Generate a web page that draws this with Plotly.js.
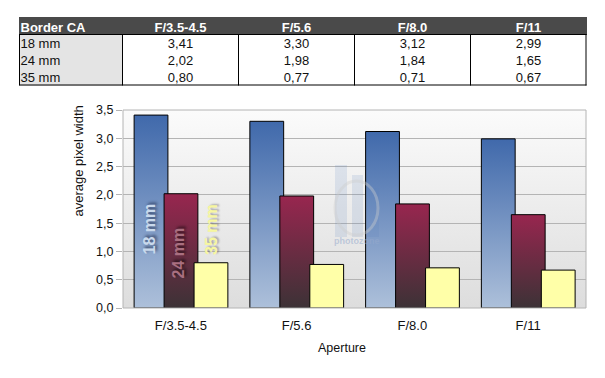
<!DOCTYPE html>
<html><head><meta charset="utf-8">
<script src="https://cdn.plot.ly/plotly-3.0.1.min.js"></script>
<style>html,body{margin:0;padding:0;background:#fff}#c{width:605px;height:378px}</style>
</head><body><div id="c"></div>
<script>
var apertures = ['F/3.5-4.5','F/5.6','F/8.0','F/11'];
var seriesNames = ['18 mm','24 mm','35 mm'];
var v18 = [3.41,3.30,3.12,2.99];
var v24 = [2.02,1.98,1.84,1.65];
var v35 = [0.80,0.77,0.71,0.67];
var cell18 = ['3,41','3,30','3,12','2,99'];
var cell24 = ['2,02','1,98','1,84','1,65'];
var cell35 = ['0,80','0,77','0,71','0,67'];
var tableTitle = 'Border CA';
var yTitle = 'average pixel width';
var xTitle = 'Aperture';

var W=605,H=378;
function px(x){return x/W;} function py(y){return 1-y/H;}
var barW=0.292, step=0.259, start=-0.404;
function bar(name,vals,i,color){
  return {type:'bar',name:name,x:apertures,y:vals,width:barW,offset:start+i*step,
    marker:{color:color,line:{color:'#000',width:1}},hoverinfo:'skip',showlegend:false,xaxis:'x',yaxis:'y'};
}
function col(a,b,c){return [a,b,c];}
var table={type:'table',domain:{x:[px(19.5),px(586.5)],y:[py(100),py(17)]},
  columnwidth:[103,116,116,116,116],
  header:{values:[tableTitle].concat(apertures),height:17,align:['left','center','center','center','center'],
    fill:{color:'#4a4a4a'},line:{width:1,color:'#4a4a4a'},
    font:{family:'Liberation Sans',size:13,color:'#fff',weight:'bold'}},
  cells:{values:[seriesNames,col(cell18[0],cell24[0],cell35[0]),col(cell18[1],cell24[1],cell35[1]),col(cell18[2],cell24[2],cell35[2]),col(cell18[3],cell24[3],cell35[3])],
    height:17,align:['left','center','center','center','center'],
    fill:{color:['#e4e4e4','#fff','#fff','#fff','#fff']},line:{width:1,color:['#e4e4e4','#fff','#fff','#fff','#fff']},
    font:{family:'Liberation Sans',size:13,color:'#111'}}
};
function vline(x){return {type:'line',xref:'paper',yref:'paper',x0:px(x),x1:px(x),y0:py(34),y1:py(85.5),line:{color:'#000',width:1}};}
function hline(y){return {type:'line',xref:'paper',yref:'paper',x0:px(19.5),x1:px(586.5),y0:py(y),y1:py(y),line:{color:'#000',width:1}};}
var wm='rgba(90,130,190,0.15)';
function wrect(x0,y0,x1,y1){return {type:'rect',layer:'above',xref:'paper',yref:'paper',x0:px(x0),x1:px(x1),y0:py(y0),y1:py(y1),fillcolor:wm,line:{width:0}};}
var shapes=[vline(19.5),vline(122.5),vline(238.5),vline(354.5),vline(470.5),vline(586),hline(34.5),hline(85),
  wrect(335,165,347,237),wrect(352,175,363,237),wrect(367,188,379,237),
  {type:'circle',layer:'above',xref:'paper',yref:'paper',x0:px(335),x1:px(378),y0:py(181),y1:py(235),fillcolor:'rgba(0,0,0,0)',line:{color:'rgba(205,205,205,0.4)',width:3}},
  {type:'rect',layer:'above',xref:'paper',yref:'paper',x0:px(123),x1:px(586),y0:py(110),y1:py(308),line:{color:'#b4b4b4',width:1},fillcolor:'rgba(0,0,0,0)'}
];
function lab(t,x,y,c,s){return {text:t,xref:'paper',yref:'paper',x:px(x),y:py(y),xanchor:'center',yanchor:'middle',showarrow:false,textangle:-90,
  font:{family:'Liberation Sans',size:16,color:c,weight:'bold',shadow:s}};}
var annotations=[lab(seriesNames[0],149,229.5,'#c9d9ec','2px 2px 3px rgba(20,30,60,0.65)'),
  lab(seriesNames[1],178,253.5,'#a96f80','2px 2px 3px rgba(0,0,0,0.6)'),
  lab(seriesNames[2],211,230,'#f7f7a0','1px 2px 2px rgba(0,0,0,0.3)'),
  {text:'photozone',xref:'paper',yref:'paper',x:px(357),y:py(241.5),xanchor:'center',yanchor:'middle',showarrow:false,
   font:{family:'Liberation Sans',size:9,color:'rgba(150,170,205,0.55)',weight:'bold'}},
  {text:yTitle,xref:'paper',yref:'paper',x:px(77.5),y:py(161),xanchor:'center',yanchor:'middle',showarrow:false,textangle:-90,font:{size:13}},
  {text:xTitle,xref:'paper',yref:'paper',x:px(341.5),y:py(347.5),xanchor:'center',yanchor:'middle',showarrow:false,font:{size:12.5}}];
var layout={width:W,height:H,margin:{l:0,r:0,t:0,b:0,pad:0},paper_bgcolor:'#fff',plot_bgcolor:'#eee',
  font:{family:'Liberation Sans',size:12,color:'#111'},barmode:'overlay',showlegend:false,
  xaxis:{domain:[px(123),px(586)],type:'category',categoryorder:'array',categoryarray:apertures,range:[-0.5,3.5],ticks:'',showgrid:false,zeroline:false,
    showline:false,ticklabelstandoff:8,tickfont:{size:13}},
  yaxis:{domain:[py(308),py(110)],range:[0,3.5],dtick:0.5,tick0:0,tickformat:'.1f',ticks:'outside',ticklen:6,tickcolor:'#b4b4b4',tickwidth:1,
    gridcolor:'#b4b4b4',gridwidth:1,zeroline:false,showline:false,tickfont:{size:12.5}},
  separators:',.',shapes:shapes,annotations:annotations};
var traces=[bar(seriesNames[0],v18,0,'#4a74b0'),bar(seriesNames[1],v24,1,'#8e2a4e'),bar(seriesNames[2],v35,2,'#ffffa8'),table];
function nudge(gd){
  gd.querySelectorAll('.table .cell-text').forEach(function(el){
    var t=el.textContent, inHeader=(t===tableTitle||apertures.indexOf(t)>=0);
    var dx=(t===tableTitle||seriesNames.indexOf(t)>=0)?-7:0;
    var dy=inHeader?-3:-4;
    el.style.transform='translate('+dx+'px,'+dy+'px)';
  });
}
Plotly.newPlot('c',traces,layout,{staticPlot:true,displayModeBar:false}).then(function(gd){
  var svg=gd.querySelector('.main-svg');
  var NS='http://www.w3.org/2000/svg';
  var defs=svg.querySelector('defs')||svg.insertBefore(document.createElementNS(NS,'defs'),svg.firstChild);
  function grad(id,top,bot){
    var g=document.createElementNS(NS,'linearGradient');g.setAttribute('id',id);
    g.setAttribute('x1','0');g.setAttribute('y1','0');g.setAttribute('x2','0');g.setAttribute('y2','1');
    [[0,top],[1,bot]].forEach(function(s){var e=document.createElementNS(NS,'stop');e.setAttribute('offset',s[0]);e.setAttribute('stop-color',s[1]);g.appendChild(e);});
    defs.appendChild(g);
  }
  grad('g0','#4069ab','#adc0da');grad('g1','#98264f','#3c3236');grad('g2','#ffffa8','#ffffa8');grad('gb','#fbfbfb','#dddddd');
  gd.querySelectorAll('.barlayer .trace').forEach(function(t,i){
    t.querySelectorAll('.point path').forEach(function(p){p.style.fill='url(#g'+i+')';});
  });
  var bg=gd.querySelector('.bglayer .bg')||gd.querySelector('.plotbg rect');
  if(bg){bg.style.fill='url(#gb)';}
  nudge(gd);
  requestAnimationFrame(function(){nudge(gd);});
  setTimeout(function(){nudge(gd);},60);
});
</script></body></html>
